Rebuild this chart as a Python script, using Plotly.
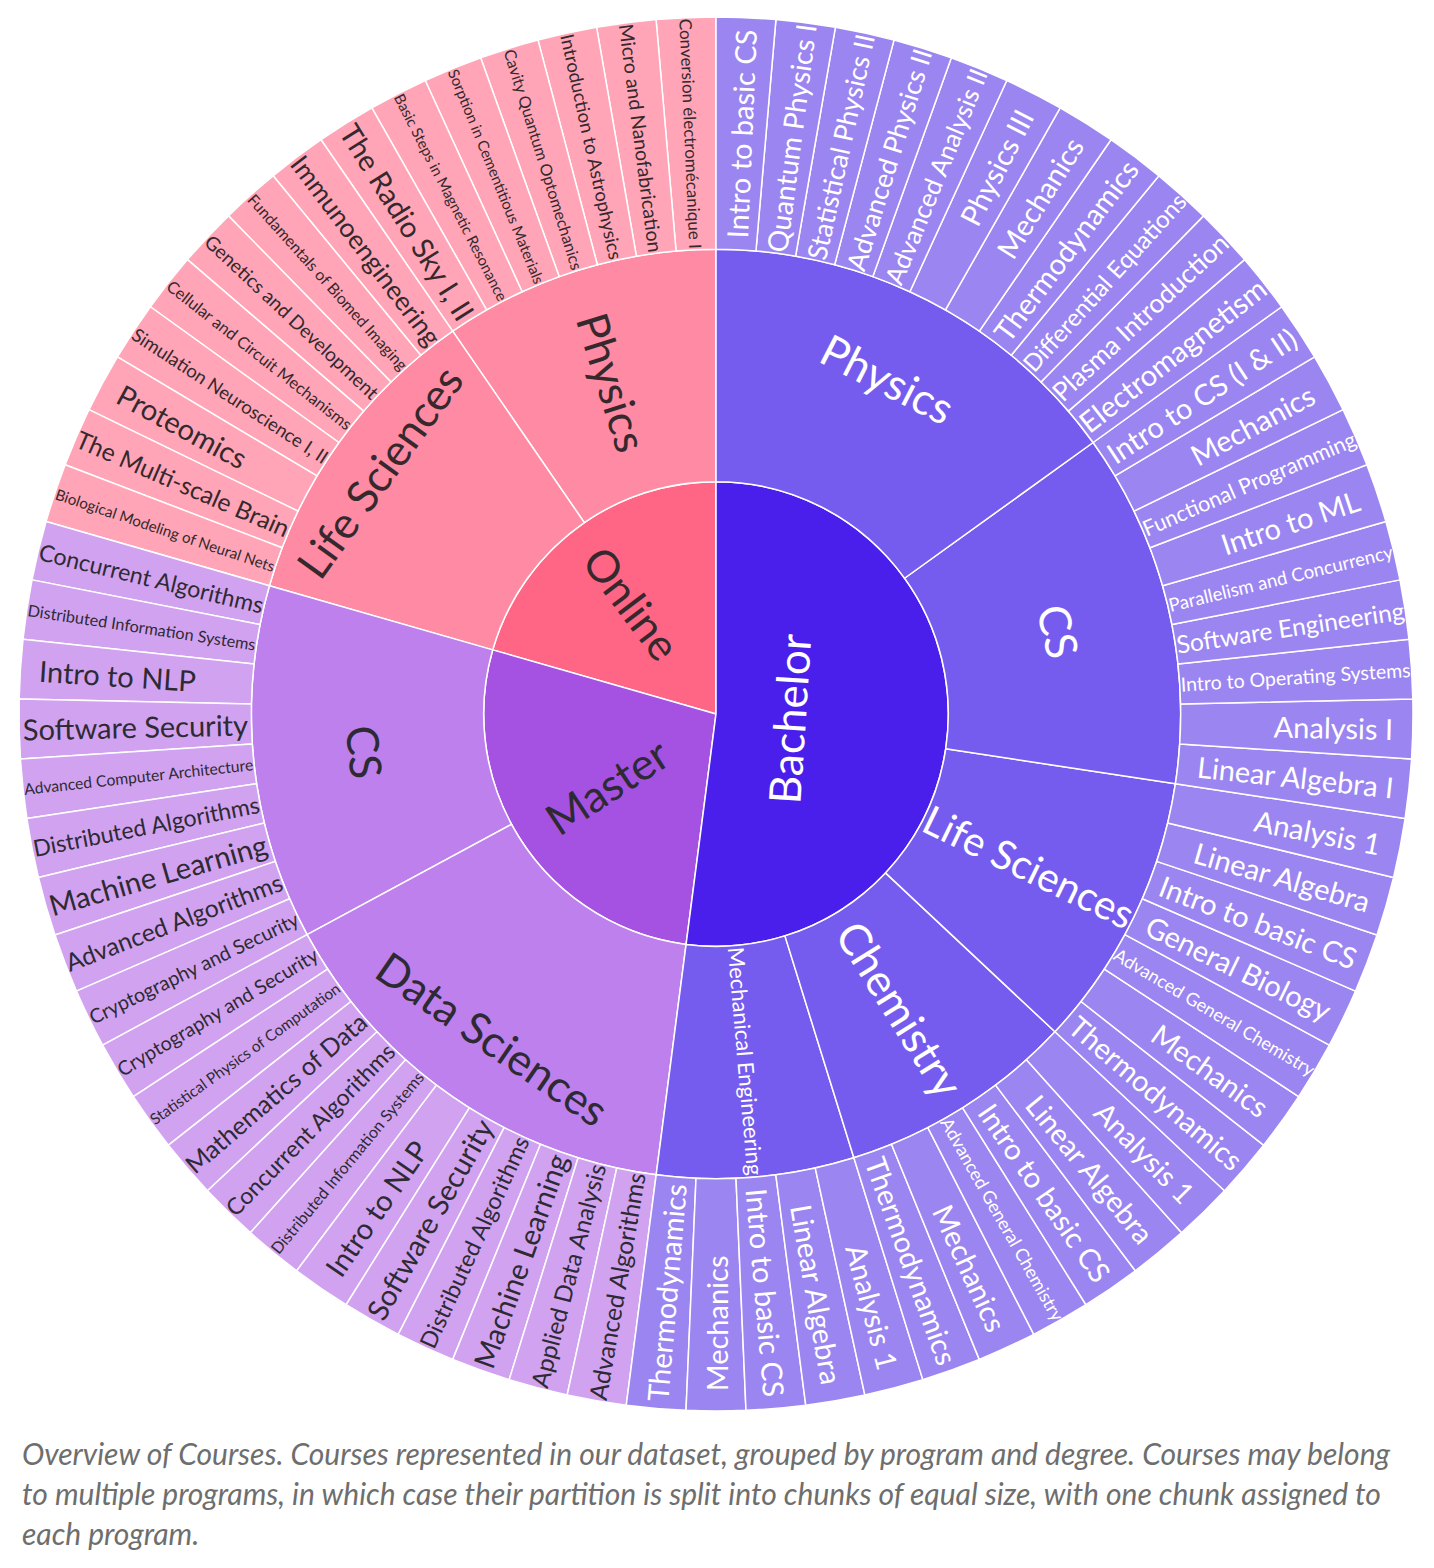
import plotly.graph_objects as go

# ---------------- data (listed clockwise from 12 o'clock) ----------------
degrees = ["Bachelor", "Master", "Online"]

bachelor_programs = ["Physics", "CS", "Life Sciences", "Chemistry", "Mechanical Engineering"]
master_programs = ["Data Sciences", "CS"]
online_programs = ["Life Sciences", "Physics"]

bachelor_physics = ["Intro to basic CS", "Quantum Physics I", "Statistical Physics II",
                    "Advanced Physics II", "Advanced Analysis II", "Physics III", "Mechanics",
                    "Thermodynamics", "Differential Equations", "Plasma Introduction",
                    "Electromagnetism"]
bachelor_cs = ["Intro to CS (I & II)", "Mechanics", "Functional Programming", "Intro to ML",
               "Parallelism and Concurrency", "Software Engineering",
               "Intro to Operating Systems", "Analysis I", "Linear Algebra I"]
bachelor_life_sciences = ["Analysis 1", "Linear Algebra", "Intro to basic CS", "General Biology",
                          "Advanced General Chemistry", "Mechanics", "Thermodynamics"]
bachelor_chemistry = ["Analysis 1", "Linear Algebra", "Intro to basic CS",
                      "Advanced General Chemistry", "Mechanics", "Thermodynamics"]
bachelor_mech_eng = ["Analysis 1", "Linear Algebra", "Intro to basic CS", "Mechanics",
                     "Thermodynamics"]

master_data_sciences = ["Advanced Algorithms", "Applied Data Analysis", "Machine Learning",
                        "Distributed Algorithms", "Software Security", "Intro to NLP",
                        "Distributed Information Systems", "Concurrent Algorithms",
                        "Mathematics of Data", "Statistical Physics of Computation",
                        "Cryptography and Security"]
master_cs = ["Cryptography and Security", "Advanced Algorithms", "Machine Learning",
             "Distributed Algorithms", "Advanced Computer Architecture", "Software Security",
             "Intro to NLP", "Distributed Information Systems", "Concurrent Algorithms"]

online_life_sciences = ["Biological Modeling of Neural Nets", "The Multi-scale Brain", "Proteomics",
                        "Simulation Neuroscience I, II", "Cellular and Circuit Mechanisms",
                        "Genetics and Development", "Fundamentals of Biomed Imaging",
                        "Immunoengineering"]
online_physics = ["The Radio Sky I, II", "Basic Steps in Magnetic Resonance",
                  "Sorption in Cementitious Materials", "Cavity Quantum Optomechanics",
                  "Introduction to Astrophysics", "Micro and Nanofabrication",
                  "Conversion électromécanique I"]

caption_lines = [
    "Overview of Courses. Courses represented in our dataset, grouped by program and degree. Courses may belong",
    "to multiple programs, in which case their partition is split into chunks of equal size, with one chunk assigned to",
    "each program.",
]

# ---------------- styling ----------------
level_colors = {
    "Bachelor": ["#4a1feb", "#765cee", "#9b86f1"],
    "Master": ["#a552e3", "#bd80ed", "#d1a2f0"],
    "Online": ["#ff6685", "#ff8aa3", "#ffa5b7"],
}
text_colors = {"Bachelor": "#ffffff", "Master": "#2e2a33", "Online": "#35292d"}
inner_font, leaf_font = 44, 29

# label orientation of the inner (degree / program) labels as seen in the chart
tangential_nodes = {"Bachelor", "Bachelor/Physics", "Bachelor/CS", "Master/Data Sciences",
                    "Master/CS", "Online/Life Sciences"}

structure = {
    "Bachelor": list(zip(bachelor_programs,
                         [bachelor_physics, bachelor_cs, bachelor_life_sciences,
                          bachelor_chemistry, bachelor_mech_eng])),
    "Master": list(zip(master_programs, [master_data_sciences, master_cs])),
    "Online": list(zip(online_programs, [online_life_sciences, online_physics])),
}

# plotly lays sectors out counterclockwise, so feed everything in reverse order
ids, labels, parents, colors, tcolors, levels = [], [], [], [], [], []
for deg in reversed(degrees):
    ids.append(deg); labels.append(deg); parents.append("")
    colors.append(level_colors[deg][0]); tcolors.append(text_colors[deg]); levels.append(0)
    for prog, courses in reversed(structure[deg]):
        pid = f"{deg}/{prog}"
        ids.append(pid); labels.append(prog); parents.append(deg)
        colors.append(level_colors[deg][1]); tcolors.append(text_colors[deg]); levels.append(1)
        for course in reversed(courses):
            ids.append(f"{pid}/{course}"); labels.append(course); parents.append(pid)
            colors.append(level_colors[deg][2]); tcolors.append(text_colors[deg]); levels.append(2)

leaf_text = [lab if lv == 2 else "" for lab, lv in zip(labels, levels)]
tan_text = [lab if (lv < 2 and i in tangential_nodes) else "" for lab, lv, i in zip(labels, levels, ids)]
rad_text = [lab if (lv < 2 and i not in tangential_nodes) else "" for lab, lv, i in zip(labels, levels, ids)]
sizes = [leaf_font if lv == 2 else inner_font for lv in levels]

W, H = 1434, 1568
cx, cy, R = 708, 706, 697
domain = dict(x=[(cx - R) / W, (cx + R) / W], y=[1 - (cy + R) / H, 1 - (cy - R) / H])

common = dict(ids=ids, labels=labels, parents=parents, sort=False, rotation=90,
              domain=domain, textinfo="text", leaf=dict(opacity=1))

fig = go.Figure()
# coloured base layer with the course labels
fig.add_trace(go.Sunburst(
    **common, text=leaf_text,
    marker=dict(colors=colors, line=dict(color="white", width=1.5)),
    textfont=dict(family="Lato", size=sizes, color=tcolors),
    insidetextorientation="auto", hoverinfo="label",
))
# transparent layers carrying the degree / program labels
for txt, orient in [(rad_text, "radial"), (tan_text, "tangential")]:
    fig.add_trace(go.Sunburst(
        **common, text=txt,
        marker=dict(colors=["rgba(0,0,0,0)"] * len(ids), line=dict(color="rgba(0,0,0,0)", width=0)),
        textfont=dict(family="Lato", size=sizes, color=tcolors),
        insidetextorientation=orient, hoverinfo="skip",
    ))

for i, line in enumerate(caption_lines):
    fig.add_annotation(
        text=f"<i>{line}</i>", xref="paper", yref="paper",
        x=12 / W, y=1 - (1445 + 40 * i) / H, xanchor="left", yanchor="middle",
        showarrow=False, font=dict(family="Lato", size=30, color="#6e6e6e"),
    )

fig.update_layout(width=W, height=H, margin=dict(l=0, r=0, t=0, b=0),
                  paper_bgcolor="white", plot_bgcolor="white")
fig.write_html("out.html")
